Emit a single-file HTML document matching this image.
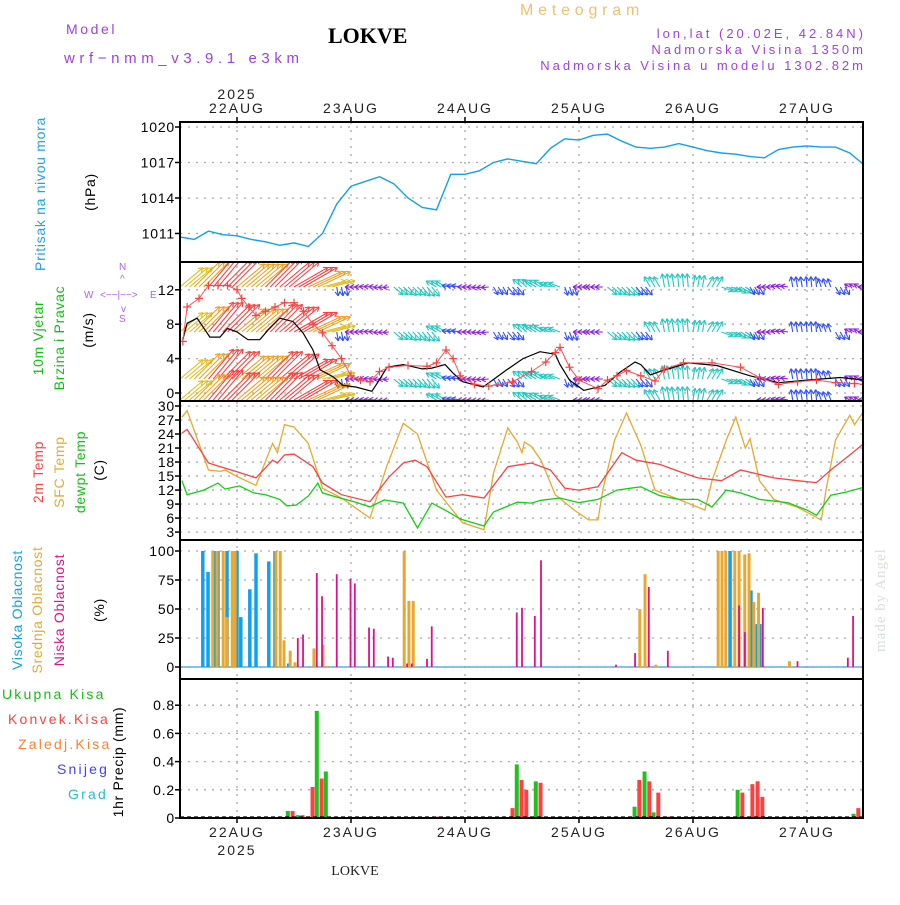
<!DOCTYPE html>
<html><head><meta charset="utf-8"><style>
body{margin:0;background:#fff}
svg{font-family:"Liberation Sans",sans-serif}
</style></head><body>
<svg id="c" width="900" height="900" viewBox="0 0 900 900" xmlns="http://www.w3.org/2000/svg">
<g id="hdr">
<text x="66" y="34" fill="#a040e0" font-size="14" letter-spacing="2.6">Model</text>
<text x="64" y="63" fill="#a040e0" font-size="15" letter-spacing="4.6">wrf−nmm_v3.9.1 e3km</text>
<text x="328" y="43" font-family="Liberation Serif,serif" font-weight="bold" font-size="22" fill="#000">LOKVE</text>
<text x="520" y="15" fill="#f0c070" font-size="16" letter-spacing="4.8">Meteogram</text>
<text x="866" y="38" text-anchor="end" fill="#a040e0" font-size="13" letter-spacing="3">lon,lat (20.02E, 42.84N)</text>
<text x="866" y="54" text-anchor="end" fill="#a040e0" font-size="13" letter-spacing="3">Nadmorska Visina 1350m</text>
<text x="866" y="70" text-anchor="end" fill="#a040e0" font-size="13" letter-spacing="3">Nadmorska Visina u modelu 1302.82m</text>
<text x="237" y="99" text-anchor="middle" font-size="14" letter-spacing="2" fill="#222">2025</text>
<text x="355" y="875" text-anchor="middle" font-family="Liberation Serif,serif" font-size="14" fill="#222">LOKVE</text>
<text transform="translate(885,652) rotate(-90)" font-family="Liberation Serif,serif" font-size="15" letter-spacing="1" fill="#d8e0d8">made by Angel</text>
</g>
<g id="labels" font-size="14" letter-spacing="0.7">
<text transform="translate(45,194) rotate(-90)" text-anchor="middle" fill="#20a0f0">Pritisak na nivou mora</text>
<text transform="translate(95,192) rotate(-90)" text-anchor="middle" fill="#000">(hPa)</text>
<text transform="translate(43,338) rotate(-90)" text-anchor="middle" fill="#10c010">10m Vjetar</text>
<text transform="translate(64,338) rotate(-90)" text-anchor="middle" fill="#10c010">Brzina i Pravac</text>
<text transform="translate(93,330) rotate(-90)" text-anchor="middle" fill="#000">(m/s)</text>
<g fill="#b060f0" font-size="10" letter-spacing="0">
<text x="84" y="298">W</text><text x="100" y="298">&lt;−−|−−&gt;</text><text x="150" y="298">E</text>
<text x="119" y="270">N</text><text x="119" y="322">S</text>
<text x="120" y="282">^</text><text x="121" y="312">v</text>
</g>
<text transform="translate(43,472) rotate(-90)" text-anchor="middle" fill="#ff4040">2m Temp</text>
<text transform="translate(64,472) rotate(-90)" text-anchor="middle" fill="#e8a830">SFC Temp</text>
<text transform="translate(85,472) rotate(-90)" text-anchor="middle" fill="#10c010">dewpt Temp</text>
<text transform="translate(104,470) rotate(-90)" text-anchor="middle" fill="#000">(C)</text>
<text transform="translate(22,610) rotate(-90)" text-anchor="middle" fill="#10a0f0">Visoka Oblacnost</text>
<text transform="translate(42,610) rotate(-90)" text-anchor="middle" fill="#e8a830">Srednja Oblacnost</text>
<text transform="translate(64,610) rotate(-90)" text-anchor="middle" fill="#e0108a">Niska Oblacnost</text>
<text transform="translate(104,610) rotate(-90)" text-anchor="middle" fill="#000">(%)</text>
<g letter-spacing="2.2">
<text x="2" y="699" fill="#10c010">Ukupna Kisa</text>
<text x="8" y="724" fill="#ff4040">Konvek.Kisa</text>
<text x="18" y="749" fill="#ff8030">Zaledj.Kisa</text>
<text x="57" y="774" fill="#4040ff">Snijeg</text>
<text x="68" y="799" fill="#20c0d0">Grad</text>
</g>
<text transform="translate(123,762) rotate(-90)" text-anchor="middle" fill="#000">1hr Precip (mm)</text>
</g>
<g id="plot"></g>
</svg>
<script>
// ---- data (hours from 21AUG 12Z) ----
const dayLabels=["22AUG","23AUG","24AUG","25AUG","26AUG","27AUG"];
const presTicks=[1020,1017,1014,1011];
const presVals=[1010.7,1010.5,1011.2,1010.9,1010.8,1010.5,1010.3,1010.0,1010.2,1009.9,1011.0,1013.5,1015.0,1015.4,1015.8,1015.2,1014.0,1013.2,1013.0,1016.0,1016.0,1016.3,1017.0,1017.3,1017.1,1016.9,1018.2,1019.0,1018.9,1019.3,1019.4,1018.8,1018.3,1018.2,1018.3,1018.6,1018.3,1018.0,1017.8,1017.7,1017.5,1017.4,1018.1,1018.3,1018.4,1018.3,1018.3,1017.8,1016.8];
const windTicks=[12,8,4,0];
const spdHours=[0.6,1.5,3.6,6.3,8.4,10,12,14.3,16.8,18.5,21,23.8,25.9,28,29.5,32.2,34.3,37,40.4,41.7,43.6,47,51,53,55.8,57.5,59.6,63.8,68.8,72.2,75.8,79,80,82,85,89.5,92.6,95.8,97,99,101,107,113,120,126,132,139,144];
const spdVals=[6.2,8.1,8.7,6.5,6.5,7.5,7.1,6.2,6.2,7.3,8.7,8.3,7,5,2.7,1.9,0.9,0.7,0.2,1.3,3,3.3,2.8,2.9,3.3,2.3,1.3,0.7,2.7,4,4.8,4.5,3.3,1.5,0.3,0.9,2.4,3.6,3.3,2.1,2.5,3.5,3.2,2.0,1.2,1.5,1.8,1.5];
const gustHours=[0.6,1.5,4,6,8,10,12,13,14.5,16,18,20,22,24,26,28,30,32,34,36,38,40,42,44,48,52,54,56,57.5,59,62,65,70,74,77,79,80,82,84,88,90,92,94,97,100,102,106,112,118,122,126,130,134,138,142,144];
const gustVals=[6,10,11,12.5,12.5,12.5,12,11,10,9,9.5,10,10.5,10.5,9.5,8,7,5.5,4,2,1.5,1.3,2.5,3,3.2,3.1,3.5,5,4,2,1,0.8,1.3,2.5,3.6,4.7,5.3,3,1.5,0.5,1.5,2,2.6,2.0,1.4,2.8,3.5,3.5,3,1.8,1,1.3,1.5,1.2,1.1,1];
const windDir=[40,45,50,45,40,40,45,40,30,25,15,-80,180,175,185,-40,-45,-50,150,170,180,185,-60,-50,140,150,160,-70,180,180,-40,-45,-50,120,100,95,80,60,-20,-30,-60,180,170,100,95,110,-60,150,180];
const windSpd=[10,12,13,13,12,12,13,13,13,12,8,3,2,2,2,4,4,4,4,3,2.5,2.5,3,3.5,4,4.5,4,3,2,2.5,4,4,3.5,4,4.5,4.5,4,4,4,4,3,2.5,2.5,3.5,3.5,3,3,2,2];
const tempTicks=[30,27,24,21,18,15,12,9,6,3];
const t2Hours=[0.4,1.5,6,8.5,12,16,19.5,20.5,22,24,28,30,34,40,44,47,49.5,52,56,59.5,64,69,71.5,74,78,81,84,88,93,96,101,105,109,114,118,125,130,134,137,141,144];
const t2Vals=[24.2,25,17.8,17,15.9,14.6,18.4,17.8,19.5,19.7,17,13.5,11,9.5,14.8,17.8,18.4,17,10.5,11,10.3,17,17.4,17.8,16.3,12.4,12,12.7,20,18.4,17.5,16,14.6,14,16.3,14.6,14,13.6,16.3,19.5,22];
const sfcHours=[0.4,1.5,6,8.5,9.5,12,16,19.5,20.5,22,24,27,30,34,40,43.5,47,50,54,59.5,64,66,69,71,72,72.5,74,76,79,83,86,88,89,91.5,94,97,100,105,110.5,112,115,117,119,120,122,125,130,135,136,138,141,142,144];
const sfcVals=[27.6,29,16.3,16,16.3,14.9,13,22,20,26,25.5,22,12.4,10.3,6,17,26.3,24,12,5,3.5,15.6,25.3,22.3,20,22.3,21.3,18.4,11,7.7,5.6,5.6,12,22.7,28.5,21.6,12,10,7.7,14,22.7,27.6,21,23,14,10,8.3,5.6,12,22.7,28,26,29];
const tdHours=[0.4,1.5,5,8,9.5,12.5,15.5,18,21,22.5,24.5,27,29,30,33,37,40,43,47,50,53,56,59,64,66,71,74,76,80,84,88,92,97,101,105,109,112,115,118,122,128,132,134,137,140,144];
const tdVals=[14,11,12,13.5,12.2,12.9,11.4,11,10,8.6,8.8,10.7,13.5,11.4,10.5,9.4,8.4,9.9,9.2,3.9,9.2,7.6,5.8,4.3,7.3,9.4,9.2,9.8,10.3,9.3,10,12,12.7,10.8,10,10,8.4,12,11.4,10,9.3,7.7,6.6,10.9,11.5,12.6];
const cloudTicks=[100,75,50,25,0];
const highHours=[4.8,5.9,7.4,8,9.9,12,12.8,14.7,16,18.7,20,22.9,115.8,115.9,120.2,121.5,122.1];
const highVals=[100,82,100,100,100,100,43,67,98,91,100,3,100,0,66,37,37];
const midHours=[6.9,7.8,9.1,9.9,11,11.6,20.2,21.1,21.9,23.2,24.2,28.2,30.1,31.2,47.2,48.2,49.1,96.8,97.9,100.2,114.1,114.9,116.8,117.7,118.9,119.8,120.8,121.8,128.3,113.3];
const midVals=[100,100,100,43,100,100,100,100,23,14,4,16,19,1,100,57,57,50,80,2,100,100,100,100,97,98,56,64,5,100];
const lowHours=[24.8,25.9,28.8,29.9,33,35.9,36.8,39.8,40.8,43.8,44.8,47.8,48.8,52,53,70.9,72,74.7,76,91.8,95.8,98.7,102.7,117.7,118.9,122.7,130,140.6,141.7];
const lowVals=[25,28,81,61,80,76,72,34,33,9,8,3,3,7,35,47,51,44,92,2,12,69,14,53,30,51,5,8,44];
const precipTicks=[0.8,0.6,0.4,0.2,0];
const precipHours=[23.2,25.3,27.4,29.3,31.2,53.9,69.5,71.4,72.4,75.4,96.2,98.3,100.2,102.5,117.9,120,121.1,122.1,142.3];
const precipTotal=[0.05,0.02,0,0.76,0.33,0,0,0.38,0,0.26,0.08,0.33,0.04,0,0.2,0,0,0.03,0.03];
const precipConv=[0.05,0.02,0.22,0.28,0,0.01,0.07,0.27,0.2,0.25,0.27,0.26,0.18,0.01,0.18,0.24,0.26,0.15,0.07];

// ---- layout ----
const X0=180,X1=863,PX=114/24;
const xs=h=>X0+h*PX;
const panels=[{t:122,b:262},{t:262,b:401},{t:401,b:540},{t:540,b:679},{t:679,b:818}];
const yP=p=>127+(1020-p)*11.83;
const yW=v=>393-v*8.6;
const yT=t=>406+(30-t)*4.67;
const yC=v=>667-v*1.16;
const yR=v=>818-v*141;
const NS="http://www.w3.org/2000/svg";
const plot=document.getElementById('plot');
function mk(tag,attrs,parent){const e=document.createElementNS(NS,tag);for(const k in attrs)e.setAttribute(k,attrs[k]);(parent||plot).appendChild(e);return e;}
function line(hs,vs,yf,color,name,w){
  const d=hs.map((h,i)=>(i?'L':'M')+xs(h).toFixed(1)+','+yf(vs[i]).toFixed(1)).join('');
  const p=mk('path',{d:d,fill:'none',stroke:color,'stroke-width':w||1.3});
  
  
  return p;
}
// grids
const grid=mk('g',{stroke:'#aaa','stroke-width':1.3,'stroke-dasharray':'2,6'});


for(let d=0;d<6;d++){const x=xs(12+24*d);mk('line',{x1:x,x2:x,y1:122,y2:818},grid);}
function hgrid(ticks,yf,name){
  const g=mk('g',{});
  
  
  ticks.forEach(t=>{const y=yf(t);
    mk('line',{x1:X0,x2:X1,y1:y,y2:y,stroke:'#aaa','stroke-width':1.3,'stroke-dasharray':'2,6'},g);
    mk('line',{x1:X0-5,x2:X0,y1:y,y2:y,stroke:'#000','stroke-width':1.5},g);
    const tx=mk('text',{x:X0-5,y:y+5,'text-anchor':'end','font-size':14,fill:'#000','letter-spacing':0.8},g);tx.textContent=String(t);});
}
hgrid(presTicks,yP,'pressure-y-axis');
hgrid(windTicks,yW,'wind-y-axis');
hgrid(tempTicks,yT,'temp-y-axis');
hgrid(cloudTicks,yC,'cloud-y-axis');
hgrid(precipTicks,yR,'precip-y-axis');
// day labels
dayLabels.forEach((l,d)=>{const x=xs(12+24*d);
  let t=mk('text',{x:x,y:113,'text-anchor':'middle','font-size':14,fill:'#222','letter-spacing':2});t.textContent=l;
  
  
  t=mk('text',{x:x,y:837,'text-anchor':'middle','font-size':14,fill:'#222','letter-spacing':2});t.textContent=l;
  
  
  mk('line',{x1:x,x2:x,y1:117,y2:122,stroke:'#000','stroke-width':1.5});
  mk('line',{x1:x,x2:x,y1:818,y2:823,stroke:'#000','stroke-width':1.5});
});
let yr=mk('text',{x:xs(12),y:855,'text-anchor':'middle','font-size':14,fill:'#222','letter-spacing':2});yr.textContent='2025';


// pressure
line(presVals.map((v,i)=>i*3),presVals,yP,'#10a0f0','pressure-line',1.4);
// wind arrows
const clipW=mk('clipPath',{id:'cw'});mk('rect',{x:X0,y:263,width:X1-X0,height:137},clipW);
const wg=mk('g',{'clip-path':'url(#cw)'});


function wcol(s){return s<2.6?'#9020e0':s<3.6?'#3050ff':s<4.6?'#20c8c0':s<8?'#20d040':s<11?'#e0c020':s<12.5?'#f0a020':'#ff4040';}
const rowBase=[287,332,379,400];
rowBase.forEach(by=>{
  windDir.forEach((a,i)=>{
    for(let k=0;k<3;k++){
      if(i===windDir.length-1&&k>0)break;
      const x=xs(i*3+k),L=windSpd[i]*3,r=a*Math.PI/180;
      const x2=x+L*Math.cos(r),y2=by-L*Math.sin(r);
      const c=wcol(windSpd[i]);
      const ar=mk('g',{stroke:c,'stroke-width':1.1,fill:'none'},wg);
      
      
      mk('line',{x1:x,y1:by,x2:x2,y2:y2},ar);
      [150,-150].forEach(o=>{const rr=r+o*Math.PI/180;mk('line',{x1:x2,y1:y2,x2:x2+5*Math.cos(rr),y2:y2-5*Math.sin(rr)},ar);});
    }
  });
});
line(spdHours,spdVals,yW,'#000','wind-speed-line',1.2);
const gl=line(gustHours,gustVals,yW,'#ff5050','wind-gust-line',1);
gl.setAttribute('clip-path','url(#cw)');
const gg=mk('g',{stroke:'#ff4040','stroke-width':1.2,'clip-path':'url(#cw)'});


gustHours.forEach((h,i)=>{const x=xs(h),y=yW(gustVals[i]);mk('line',{x1:x-4,x2:x+4,y1:y,y2:y},gg);mk('line',{x1:x,x2:x,y1:y-4,y2:y+4},gg);});
// temperature
line(sfcHours,sfcVals,yT,'#e8a830','sfc-temp-line',1.3);
line(t2Hours,t2Vals,yT,'#ff4040','t2m-line',1.3);
line(tdHours,tdVals,yT,'#10d010','dewpt-line',1.3);
// bars
function bars(hs,vs,yf,base,color,w,name){
  const g=mk('g',{fill:color});
  
  
  hs.forEach((h,i)=>{if(vs[i]<=0)return;const y=yf(vs[i]);
    const r=mk('rect',{x:xs(h)-w/2,y:y,width:w,height:base-y},g);
    
    });
}
mk('line',{x1:X0,x2:X1,y1:667,y2:667,stroke:'#60b0e0','stroke-width':1.5});
bars(highHours,highVals,yC,667,'#10a0f0',3.5,'high-cloud');
bars(midHours,midVals,yC,667,'#e8a830',3,'mid-cloud');
bars(lowHours,lowVals,yC,667,'#e0108a',1.8,'low-cloud');
bars(precipHours.map(h=>h-0.5),precipTotal,yR,818,'#20c020',4,'total-precip');
bars(precipHours.map(h=>h+0.5),precipConv,yR,818,'#ff4040',4,'conv-precip');
mk('line',{x1:X0,x2:X1,y1:817,y2:817,stroke:'#000','stroke-width':1.2,'stroke-dasharray':'4,3'});
// frames
panels.forEach((p,i)=>{const r=mk('rect',{x:X0,y:p.t,width:X1-X0,height:p.b-p.t,fill:'none',stroke:'#000','stroke-width':2});
  
  });
</script>
</body></html>
